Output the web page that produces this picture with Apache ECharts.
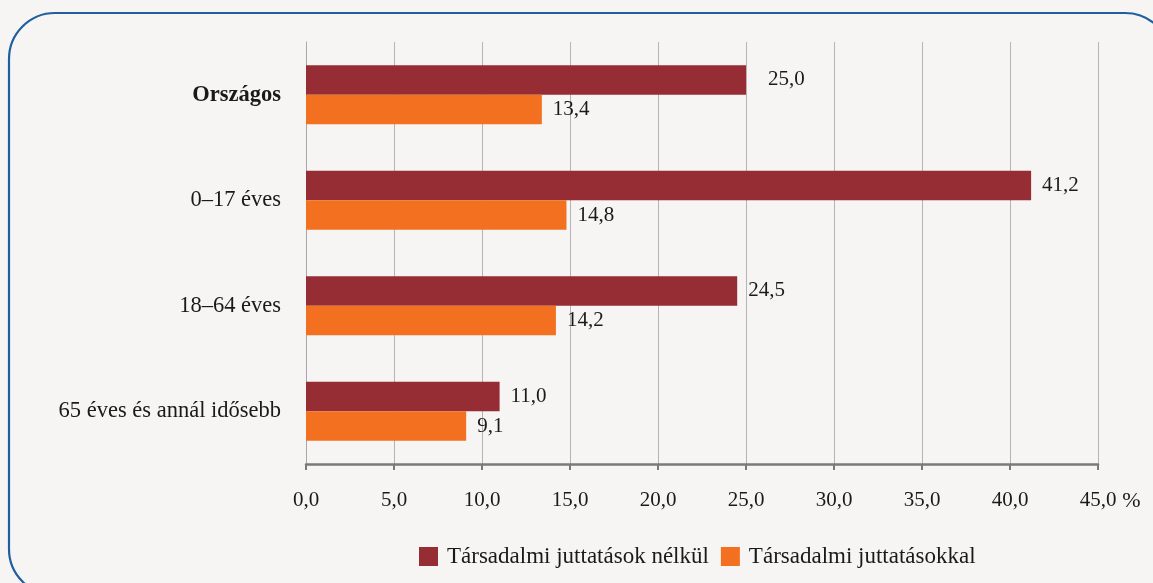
<!DOCTYPE html>
<html><head><meta charset="utf-8">
<script src="https://cdn.jsdelivr.net/npm/echarts@6/dist/echarts.min.js"></script>
<style>html,body{margin:0;padding:0;background:#F6F5F3;}#c{width:1153px;height:583px;}</style>
</head><body><div id="c"></div>
<script>
const categories = ['Országos', '0–17 éves', '18–64 éves', '65 éves és annál idősebb'];
const seriesNames = ['Társadalmi juttatások nélkül', 'Társadalmi juttatásokkal'];
const withoutBenefits = [25.0, 41.2, 24.5, 11.0];
const withBenefits = [13.4, 14.8, 14.2, 9.1];
const axisMin = 0, axisMax = 45, axisStep = 5;

const font = 'Liberation Serif';
const fmt = v => v.toFixed(1).replace('.', ',');

const chart = echarts.init(document.getElementById('c'));
chart.setOption({
  backgroundColor: '#F6F5F3',
  animation: false,
  textStyle: { fontFamily: font, color: '#1a1a1a' },
  graphic: [{
    type: 'rect', silent: true, z: -1,
    shape: { x: 9, y: 13, width: 1162, height: 582, r: 46 },
    style: { fill: 'none', stroke: '#1F5FA0', lineWidth: 2.2 }
  }],
  grid: { left: 306, right: 55, top: 42, bottom: 119 },
  legend: {
    top: 540, left: 414,
    itemWidth: 19, itemHeight: 19, itemGap: 12,
    textStyle: { fontFamily: font, fontSize: 23, color: '#1a1a1a', padding: [0, 0, 0, 4] },
    data: seriesNames.map(n => ({ name: n, icon: 'rect' }))
  },
  xAxis: {
    type: 'value', min: axisMin, max: axisMax, interval: axisStep,
    name: '%', nameLocation: 'end', nameGap: 10,
    nameTextStyle: { fontFamily: font, fontSize: 22, color: '#1a1a1a', verticalAlign: 'top', padding: [26, 0, 0, 0] },
    axisLine: { show: true, lineStyle: { color: '#7A7A7A', width: 2.5 } },
    axisTick: { show: true, length: 6, lineStyle: { color: '#7A7A7A', width: 2 } },
    axisLabel: { margin: 26, fontFamily: font, fontSize: 21, color: '#1a1a1a', formatter: v => fmt(v) },
    splitLine: { show: true, lineStyle: { color: '#B4B4B4', width: 1 } }
  },
  yAxis: {
    type: 'category', data: categories, inverse: true,
    axisLine: { show: true, lineStyle: { color: '#A8A8A8', width: 1 } },
    axisTick: { show: false },
    axisLabel: {
      margin: 25, fontFamily: font, fontSize: 22.5, color: '#1a1a1a',
      formatter: (v, i) => i === 0 ? '{b|' + v + '}' : v,
      rich: { b: { fontFamily: font, fontSize: 22.5, fontWeight: 'bold', color: '#1a1a1a' } }
    }
  },
  series: [
    {
      name: seriesNames[0], type: 'bar', data: withoutBenefits.map((v, i) => i === 0 ? { value: v, label: { distance: 22 } } : v),
      itemStyle: { color: '#962D35' }, barGap: '0%', barCategoryGap: '44%',
      label: { show: true, position: 'right', distance: 11, fontFamily: font, fontSize: 21, color: '#1a1a1a', formatter: p => fmt(p.value) }
    },
    {
      name: seriesNames[1], type: 'bar', data: withBenefits,
      itemStyle: { color: '#F37021' }, barGap: '0%', barCategoryGap: '44%',
      label: { show: true, position: 'right', distance: 11, fontFamily: font, fontSize: 21, color: '#1a1a1a', formatter: p => fmt(p.value) }
    }
  ]
});
</script></body></html>
